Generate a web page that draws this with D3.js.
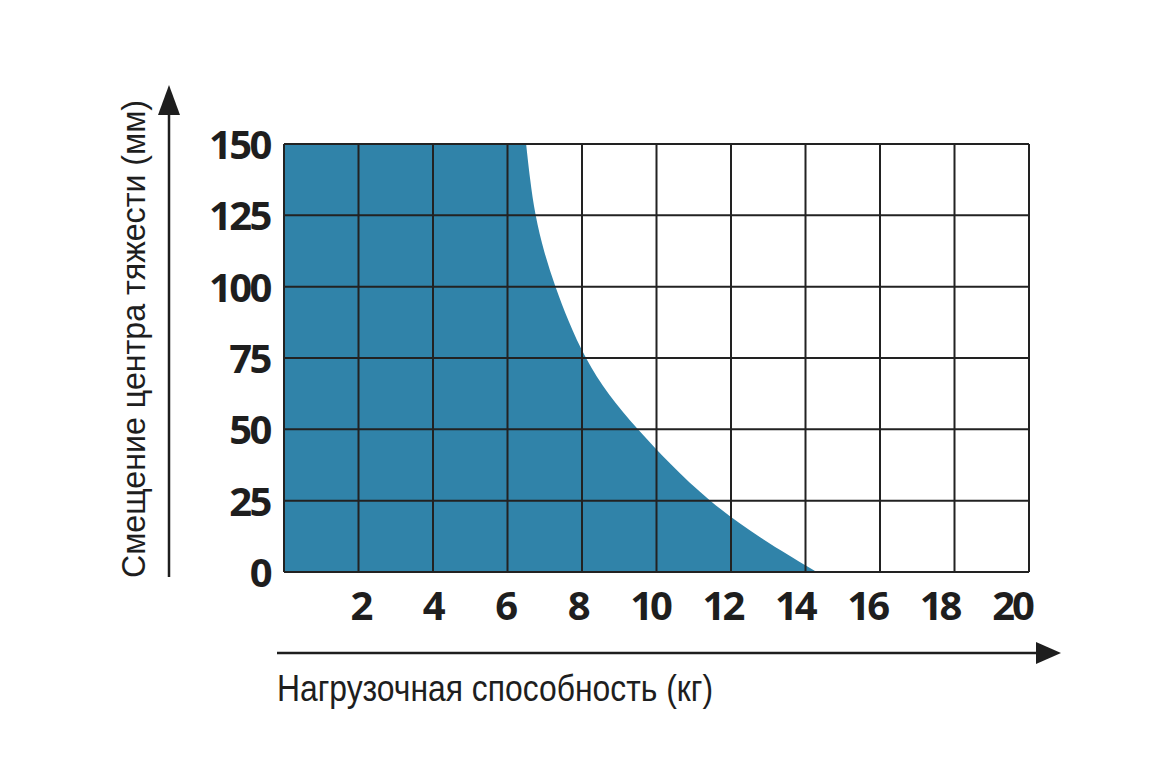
<!DOCTYPE html>
<html>
<head>
<meta charset="utf-8">
<script src="https://cdn.jsdelivr.net/npm/d3@7"></script>
<style>
  body { margin: 0; background: #fff; }
  .tick-label { font-family: "Open Sans", "Noto Sans", sans-serif; font-weight: 700; fill: #1e1e1e; }
  .title { font-family: "Liberation Sans", Arial, sans-serif; fill: #1e1e1e; }
</style>
</head>
<body>
<script>
// curve: load capacity (kg) for each offset (mm)
var offsetMm = [150, 138, 125, 112, 100, 88, 75, 62, 50, 38, 25, 12, 0];
var loadKg   = [6.50, 6.60, 6.74, 6.98, 7.28, 7.63, 8.08, 8.70, 9.49, 10.35, 11.39, 12.75, 14.30];

var xTicks = [2, 4, 6, 8, 10, 12, 14, 16, 18, 20];
var yTicks = [0, 25, 50, 75, 100, 125, 150];
var xGrid = [0, 2, 4, 6, 8, 10, 12, 14, 16, 18, 20];

var xTitle = "Нагрузочная способность (кг)";
var yTitle = "Смещение центра тяжести (мм)";

var width = 1159,
    height = 773;

// plot box (note: "top" is taken by window.top)
var plotLeft = 284, plotRight = 1029, plotTop = 144, plotBottom = 572;

var x = d3.scaleLinear().domain([0, 20]).range([plotLeft, plotRight]);
var y = d3.scaleLinear().domain([0, 150]).range([plotBottom, plotTop]);
// the x labels sit a little left of their grid lines, more so to the right
var xLabel = d3.scaleLinear().domain([0, 20]).range([x(0) + 4, x(20) - 17]);

var svg = d3.select("body").append("svg")
    .attr("width", width)
    .attr("height", height);

var points = offsetMm.map(function(d, i) { return { mm: d, kg: loadKg[i] }; });

// filled region, smoothed so the edge reads as one clean curve
var area = d3.area()
    .y(function(d) { return y(d.mm); })
    .x0(x(0))
    .x1(function(d) { return x(d.kg); })
    .curve(d3.curveBasis);

svg.append("path")
    .datum(points)
    .attr("d", area)
    .attr("fill", "#3083a9");

// grid
var grid = svg.append("g")
    .attr("stroke", "#222")
    .attr("stroke-width", 2);

grid.selectAll("line.v")
    .data(xGrid)
    .enter().append("line")
    .attr("class", "v")
    .attr("x1", function(d) { return x(d); })
    .attr("x2", function(d) { return x(d); })
    .attr("y1", y(0))
    .attr("y2", y(150));

grid.selectAll("line.h")
    .data(yTicks)
    .enter().append("line")
    .attr("class", "h")
    .attr("x1", x(0))
    .attr("x2", x(20))
    .attr("y1", function(d) { return y(d); })
    .attr("y2", function(d) { return y(d); });

// tick labels
svg.append("g").selectAll("text")
    .data(yTicks)
    .enter().append("text")
    .attr("class", "tick-label")
    .attr("x", x(0) - 14)
    .attr("y", function(d) { return y(d) + 15; })
    .attr("text-anchor", "end")
    .style("font-size", "40px")
    .style("letter-spacing", "-2.5px")
    .text(function(d) { return d; });

svg.append("g").selectAll("text")
    .data(xTicks)
    .enter().append("text")
    .attr("class", "tick-label")
    .attr("x", function(d) { return xLabel(d); })
    .attr("y", y(0) + 48)
    .attr("text-anchor", "middle")
    .style("font-size", "40px")
    .style("letter-spacing", "-3px")
    .text(function(d) { return d; });

// axis arrows
svg.append("line")
    .attr("x1", 277).attr("x2", 1040)
    .attr("y1", 653).attr("y2", 653)
    .attr("stroke", "#1e1e1e").attr("stroke-width", 2.5);
svg.append("path")
    .attr("d", "M1036,642 L1061,653 L1036,664 Z")
    .attr("fill", "#1e1e1e");

svg.append("line")
    .attr("x1", 169).attr("x2", 169)
    .attr("y1", 577).attr("y2", 110)
    .attr("stroke", "#1e1e1e").attr("stroke-width", 2.5);
svg.append("path")
    .attr("d", "M158,115 L169,85 L180,115 Z")
    .attr("fill", "#1e1e1e");

// axis titles
svg.append("text")
    .attr("class", "title")
    .attr("x", 277)
    .attr("y", 701)
    .style("font-size", "36px")
    .attr("textLength", 436)
    .attr("lengthAdjust", "spacingAndGlyphs")
    .text(xTitle);

svg.append("text")
    .attr("class", "title")
    .attr("transform", "translate(145,578) rotate(-90)")
    .style("font-size", "33px")
    .attr("textLength", 478)
    .attr("lengthAdjust", "spacingAndGlyphs")
    .text(yTitle);
</script>
</body>
</html>
